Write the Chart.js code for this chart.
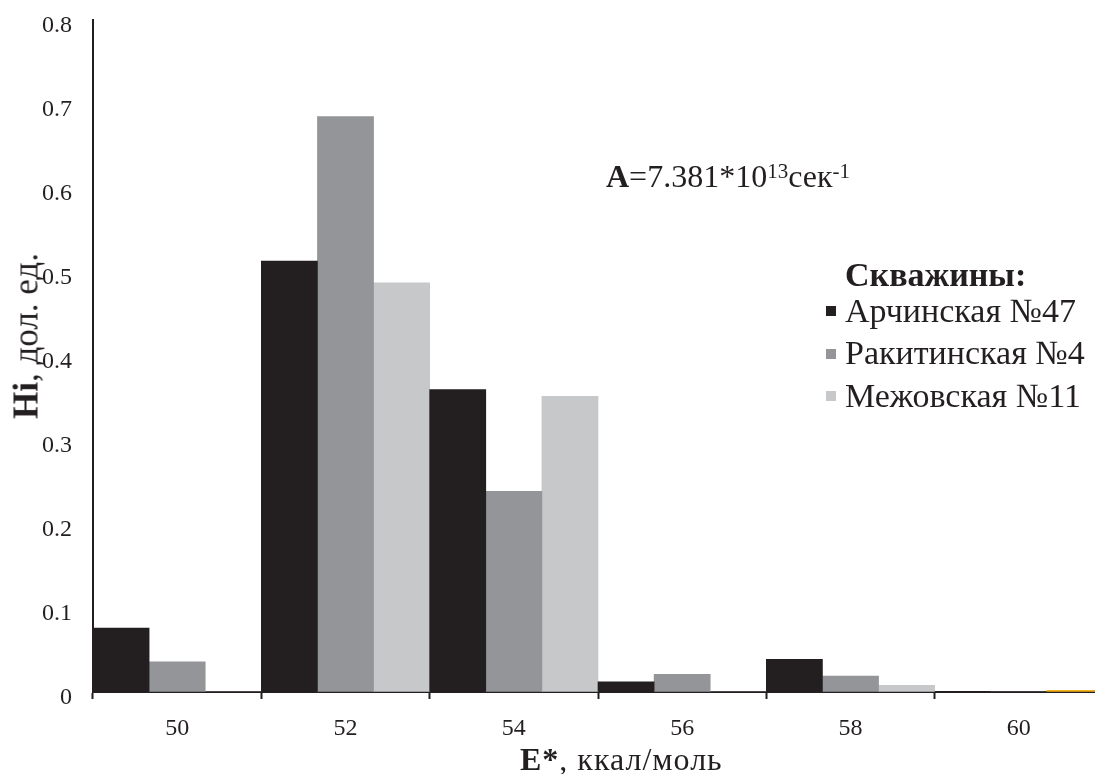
<!DOCTYPE html>
<html>
<head>
<meta charset="utf-8">
<script src="https://cdn.jsdelivr.net/npm/chart.js@4/dist/chart.umd.min.js"></script>
<style>
  html, body { margin: 0; padding: 0; overflow: hidden; background: #fff; }
  #wrap { position: relative; width: 1103px; height: 774px; font-family: "Liberation Serif", "Times New Roman", serif; color: #231f20; }
  #c { position: absolute; left: 0; top: 0; }
  .txt { position: absolute; white-space: nowrap; line-height: 1; }
  #ytitle { font-size: 35px; left: 26px; top: 336px; transform: translate(-50%, -50%) rotate(-90deg); }
  #xtitle { font-size: 32px; left: 520px; top: 743px; letter-spacing: 1px; }
  #note { font-size: 32px; left: 606px; top: 160px; }
  #note sup { font-size: 21px; vertical-align: 9px; line-height: 0; }
  #legend { position: absolute; left: 826px; top: 258px; font-size: 34px; line-height: 1; }
  #legend .head { font-weight: bold; margin-left: 19px; height: 35.5px; }
  #legend .row { height: 42.5px; display: flex; align-items: flex-start; }
  #legend .sw { width: 10px; height: 10px; margin-top: 12.5px; margin-right: 9px; }
</style>
</head>
<body>
<div id="wrap">
  <canvas id="c" width="1103" height="774"></canvas>
  <div id="ytitle" class="txt"><b>Hi</b>, дол. ед.</div>
  <div id="xtitle" class="txt"><b>E*</b>, ккал/моль</div>
  <div id="note" class="txt"><b>A</b>=7.381*10<sup>13</sup>сек<sup>-1</sup></div>
  <div id="legend"></div>
</div>
<script>
// данные
const categories = ['50', '52', '54', '56', '58', '60'];
const yTickLabels = ['0', '0.1', '0.2', '0.3', '0.4', '0.5', '0.6', '0.7', '0.8'];
const wellNames = ['Арчинская №47', 'Ракитинская №4', 'Межовская №11'];
const archinsk = [0.076, 0.513, 0.360, 0.012, 0.039, 0];
const rakitinsk = [0.036, 0.685, 0.239, 0.021, 0.019, 0];
const mezhovsk = [0, 0.487, 0.352, 0, 0.008, 0.002];

const colors = ['#231f20', '#939598', '#c7c8ca'];
const ink = '#231f20';
const font = 'Liberation Serif';

const ctx = document.getElementById('c').getContext('2d');
const chart = new Chart(ctx, {
    type: 'bar',
    data: {
        labels: categories,
        datasets: [
            { label: wellNames[0], data: archinsk, backgroundColor: colors[0] },
            { label: wellNames[1], data: rakitinsk, backgroundColor: colors[1] },
            { label: wellNames[2], data: mezhovsk,
              backgroundColor: [colors[2], colors[2], colors[2], colors[2], colors[2], '#f5b31b'] }
        ]
    },
    options: {
        responsive: false,
        animation: false,
        layout: { padding: { top: 20, left: 0, right: 0, bottom: 0 } },
        datasets: { bar: { barPercentage: 1, categoryPercentage: 1, borderWidth: 0 } },
        plugins: { legend: { display: false }, tooltip: { enabled: false } },
        scales: {
            x: {
                grid: { offset: true, drawOnChartArea: false, drawTicks: true, tickLength: 7, tickWidth: 2, color: ink },
                border: { display: true, color: ink, width: 2 },
                ticks: { color: ink, font: { family: font, size: 24 }, padding: 15, maxRotation: 0 },
                afterFit: s => { s.height = 82; s.paddingLeft = 0; s.paddingRight = 0; }
            },
            y: {
                min: 0, max: 0.8,
                grid: { drawOnChartArea: false, drawTicks: false },
                border: { display: true, color: ink, width: 2 },
                ticks: {
                    stepSize: 0.1, color: ink, padding: 21, labelOffset: 6,
                    font: { family: font, size: 24 },
                    callback: (v, i) => yTickLabels[i]
                },
                afterFit: s => { s.width = 93; s.paddingTop = 0; s.paddingBottom = 0; }
            }
        }
    }
});

// легенда
const legend = document.getElementById('legend');
const head = document.createElement('div');
head.className = 'head';
head.textContent = 'Скважины:';
legend.appendChild(head);
chart.data.datasets.forEach((ds, i) => {
    const row = document.createElement('div');
    row.className = 'row';
    const sw = document.createElement('span');
    sw.className = 'sw';
    sw.style.background = colors[i];
    const t = document.createElement('span');
    t.textContent = ds.label;
    row.appendChild(sw);
    row.appendChild(t);
    legend.appendChild(row);
});
</script>
</body>
</html>
